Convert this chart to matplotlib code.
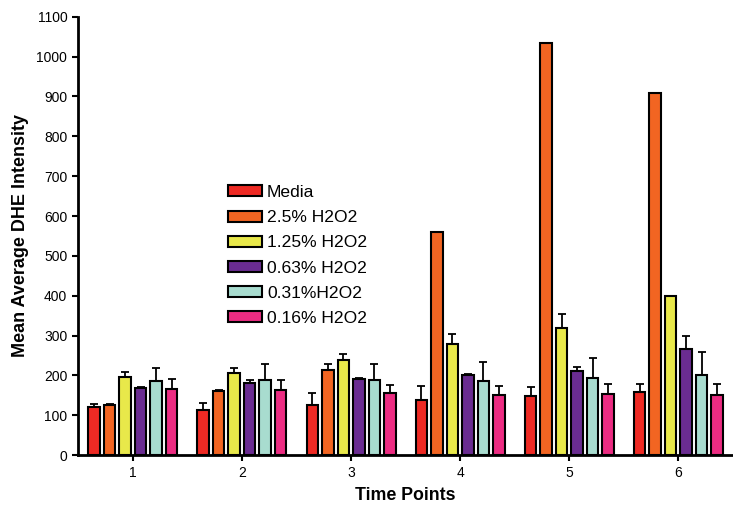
import numpy as np
import matplotlib
matplotlib.use("Agg")
import matplotlib.pyplot as plt

plt.rcParams["font.family"] = ["Liberation Sans", "DejaVu Sans"]

# Data
time_points = [1, 2, 3, 4, 5, 6]
series_names = ["Media", "2.5% H2O2", "1.25% H2O2", "0.63% H2O2", "0.31%H2O2", "0.16% H2O2"]
colors = ["#EE2A24", "#F26522", "#E8E84A", "#6A2C91", "#A8DCCF", "#EC2C82"]

media = [121, 113, 126, 138, 148, 159]
h2o2_250 = [127, 162, 213, 561, 1033, 909]
h2o2_125 = [195, 206, 238, 278, 320, 400]
h2o2_063 = [169, 181, 191, 200, 211, 266]
h2o2_031 = [186, 188, 188, 186, 193, 201]
h2o2_016 = [166, 163, 155, 151, 153, 151]

media_err = [8, 17, 29, 35, 24, 19]
h2o2_250_err = [1, 2, 16, 0, 0, 0]
h2o2_125_err = [14, 13, 17, 25, 33, 0]
h2o2_063_err = [1, 7, 3, 3, 11, 34]
h2o2_031_err = [32, 41, 42, 48, 52, 57]
h2o2_016_err = [24, 25, 21, 22, 25, 27]

values = [media, h2o2_250, h2o2_125, h2o2_063, h2o2_031, h2o2_016]
errors = [media_err, h2o2_250_err, h2o2_125_err, h2o2_063_err, h2o2_031_err, h2o2_016_err]

fig = plt.figure(figsize=(7.33, 5.08), dpi=100)
ax = fig.add_axes([0.106, 0.104, 0.894, 0.863])

x = np.array(time_points, dtype=float)
slot = 0.142
width = 0.105
for i, (name, vals, errs, c) in enumerate(zip(series_names, values, errors, colors)):
    pos = x + (i - 2.5) * slot
    ax.bar(pos, vals, width=width, color=c, edgecolor="black", linewidth=1.5,
           label=name, zorder=3)
    errs = np.array(errs)
    ax.errorbar(pos, vals, yerr=[np.zeros_like(errs), errs], fmt="none",
                ecolor="black", elinewidth=1.3, capsize=3, capthick=1.3, zorder=2)

ax.set_xlim(0.495, 6.5)
ax.set_ylim(0, 1100)
ax.set_yticks(np.arange(0, 1101, 100))
ax.set_xticks(time_points)
ax.spines["top"].set_visible(False)
ax.spines["right"].set_visible(False)
ax.spines["left"].set_linewidth(2)
ax.spines["bottom"].set_linewidth(2)
ax.tick_params(axis="both", direction="out", length=4, width=1.5, labelsize=10)

ax.set_ylabel("Mean Average DHE Intensity", fontsize=13, fontweight="bold", labelpad=5)
ax.set_xlabel("Time Points", fontsize=12.8, fontweight="bold", labelpad=5)

ax.legend(loc="upper left", bbox_to_anchor=(0.218, 0.632), frameon=False,
          fontsize=12.6, handlelength=1.95, handleheight=0.6, labelspacing=0.58,
          handletextpad=0.3, borderaxespad=0)

fig.savefig("out.png", dpi=100)
